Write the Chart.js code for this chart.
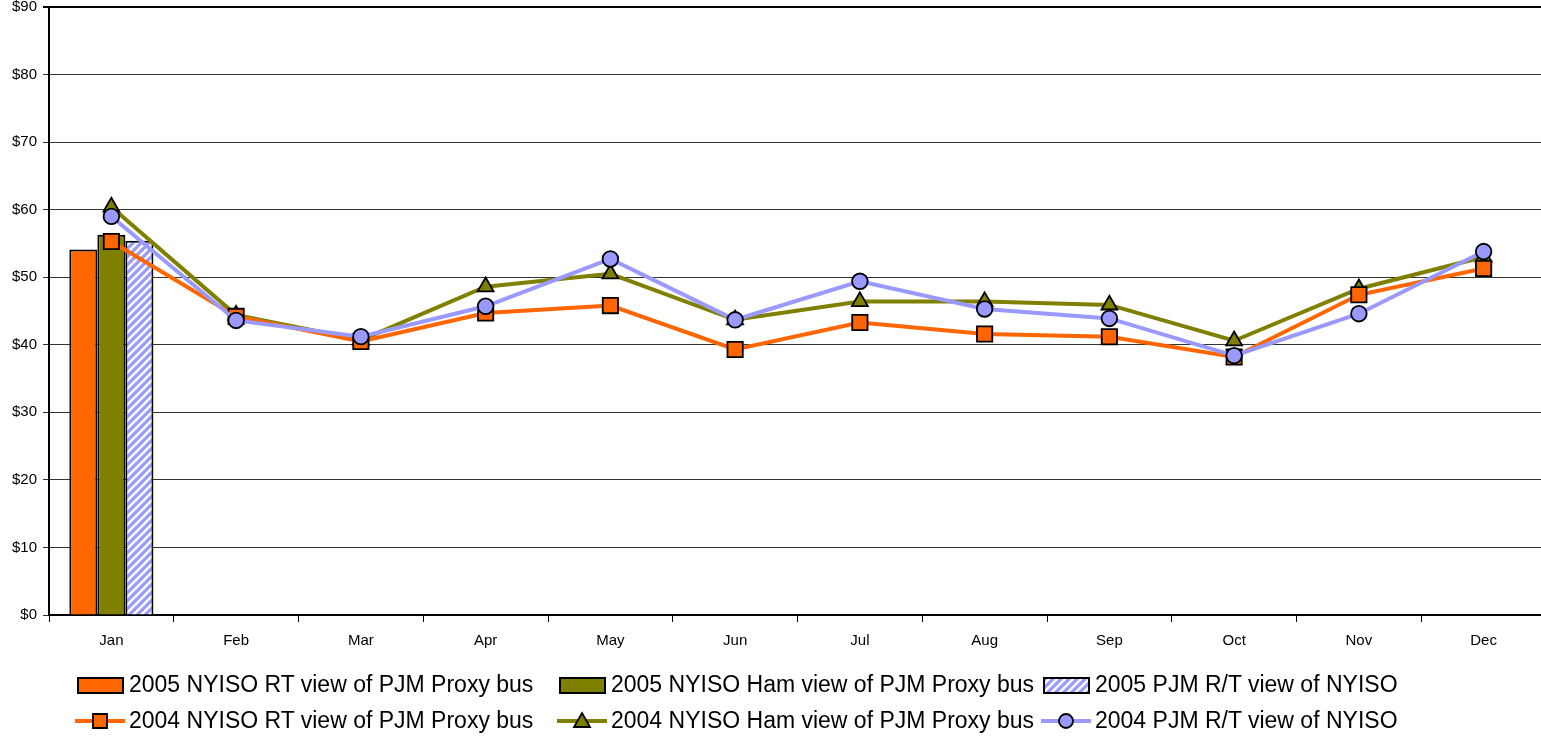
<!DOCTYPE html>
<html>
<head>
<meta charset="utf-8">
<script src="https://cdn.jsdelivr.net/npm/chart.js@4/dist/chart.umd.min.js"></script>
<style>
  html, body { margin: 0; padding: 0; background: #fff; overflow: hidden; }
  #wrap { position: relative; width: 1546px; height: 736px; }
  #legend { position: absolute; left: 75px; top: 671px; display: grid;
    grid-template-columns: 482px 484px auto; row-gap: 9px;
    font-family: "Liberation Sans", Arial, sans-serif; font-size: 23px; color: #000; }
  .item { display: flex; align-items: center; height: 27px; white-space: nowrap; }
  .item canvas { margin-right: 4px; }
</style>
</head>
<body>
<div id="wrap">
  <canvas id="priceChart" width="1546" height="736"></canvas>
  <div id="legend"></div>
</div>
<script>
// Month labels on the category axis
const months = ['Jan', 'Feb', 'Mar', 'Apr', 'May', 'Jun', 'Jul', 'Aug', 'Sep', 'Oct', 'Nov', 'Dec'];

// 2005 bars (only January so far)
const rt2005 = [54.1, null, null, null, null, null, null, null, null, null, null, null];
const ham2005 = [56.3, null, null, null, null, null, null, null, null, null, null, null];
const pjm2005 = [55.4, null, null, null, null, null, null, null, null, null, null, null];

// 2004 monthly lines
const rt2004 = [55.3, 44.2, 40.5, 44.7, 45.8, 39.3, 43.3, 41.6, 41.2, 38.2, 47.4, 51.3];
const ham2004 = [60.4, 44.4, 40.7, 48.6, 50.5, 43.7, 46.4, 46.4, 45.9, 40.6, 48.3, 53.0];
const pjm2004 = [59.0, 43.6, 41.2, 45.7, 52.7, 43.7, 49.4, 45.3, 43.9, 38.4, 44.6, 53.8];

// Y axis ticks
const yTicks = [0, 10, 20, 30, 40, 50, 60, 70, 80, 90];

const ORANGE = '#FF6600';
const OLIVE = '#808000';
const LAVENDER = '#9999FF';

// diagonal hatch for the PJM 2005 bar
function makeHatch() {
  const c = document.createElement('canvas');
  c.width = 8; c.height = 8;
  const g = c.getContext('2d');
  g.fillStyle = '#fff';
  g.fillRect(0, 0, 8, 8);
  g.strokeStyle = LAVENDER;
  g.lineWidth = 3.2;
  [[-8, 8, 8, -8], [0, 8, 8, 0], [0, 16, 16, 0]].forEach(p => {
    g.beginPath(); g.moveTo(p[0], p[1]); g.lineTo(p[2], p[3]); g.stroke();
  });
  return c;
}
const ctx = document.getElementById('priceChart').getContext('2d');
const hatch = ctx.createPattern(makeHatch(), 'repeat');

function lineSet(label, data, color, style, radius, order) {
  return {
    type: 'line', label: label, data: data, order: order,
    borderColor: color, borderWidth: 4, backgroundColor: color,
    pointStyle: style, pointRadius: radius, pointHoverRadius: radius,
    pointBackgroundColor: color, pointBorderColor: '#000', pointBorderWidth: 1.8,
    tension: 0, fill: false, clip: false
  };
}
function barSet(label, data, fill) {
  return {
    type: 'bar', label: label, data: data, order: 5,
    backgroundColor: fill, borderColor: '#000', borderWidth: 2,
    categoryPercentage: 0.674, barPercentage: 1
  };
}

const datasets = [
  barSet('2005 NYISO RT view of PJM Proxy bus', rt2005, ORANGE),
  barSet('2005 NYISO Ham view of PJM Proxy bus', ham2005, OLIVE),
  barSet('2005 PJM R/T view of NYISO', pjm2005, hatch),
  lineSet('2004 NYISO RT view of PJM Proxy bus', rt2004, ORANGE, 'rect', 10.8, 1),
  lineSet('2004 NYISO Ham view of PJM Proxy bus', ham2004, OLIVE, 'triangle', 9.2, 2),
  lineSet('2004 PJM R/T view of NYISO', pjm2004, LAVENDER, 'circle', 7.8, 0)
];

const tickFont = { family: '"Liberation Sans", Arial, sans-serif', size: 15 };

const chart = new Chart(ctx, {
  type: 'bar',
  data: { labels: months, datasets: datasets },
  options: {
    responsive: false,
    animation: false,
    layout: { autoPadding: false, padding: { top: 7, left: 0, right: 0, bottom: 0 } },
    plugins: { legend: { display: false }, tooltip: { enabled: false } },
    scales: {
      x: {
        offset: true,
        grid: { offset: true, drawOnChartArea: false, drawTicks: true, tickLength: 7, color: '#000', lineWidth: 1 },
        border: { color: '#000', width: 2 },
        ticks: { color: '#000', font: tickFont, padding: 10, maxRotation: 0 },
        afterFit: s => { s.height = 121; s.paddingLeft = 0; s.paddingRight = 0; }
      },
      y: {
        min: yTicks[0], max: yTicks[yTicks.length - 1],
        afterBuildTicks: s => { s.ticks = yTicks.map(v => ({ value: v })); },
        grid: {
          color: c => (c.tick && c.tick.value === 90) ? '#000' : '#333',
          lineWidth: c => (c.tick && c.tick.value === 90) ? 2 : 1,
          tickLength: 6
        },
        border: { color: '#000', width: 2 },
        ticks: { color: '#000', font: tickFont, padding: 6, callback: v => '$' + v },
        afterFit: s => { s.width = 49; s.paddingTop = 0; s.paddingBottom = 0; }
      }
    }
  }
});

// HTML legend: 2005 bars on the first row, 2004 lines on the second
function legendSymbol(ds) {
  const c = document.createElement('canvas');
  c.width = 50; c.height = 20;
  const g = c.getContext('2d');
  if (ds.type === 'bar') {
    g.fillStyle = ds.backgroundColor === hatch ? g.createPattern(makeHatch(), 'repeat') : ds.backgroundColor;
    g.fillRect(3, 3, 45, 15);
    g.strokeStyle = '#000'; g.lineWidth = 2;
    g.strokeRect(3, 3, 45, 15);
  } else {
    g.strokeStyle = ds.borderColor; g.lineWidth = 4;
    g.beginPath(); g.moveTo(0, 10); g.lineTo(50, 10); g.stroke();
    g.fillStyle = ds.pointBackgroundColor; g.strokeStyle = '#000'; g.lineWidth = 1.8;
    g.beginPath();
    if (ds.pointStyle === 'rect') g.rect(18, 3, 14, 14);
    else if (ds.pointStyle === 'triangle') { g.moveTo(25, 2); g.lineTo(33, 16); g.lineTo(17, 16); g.closePath(); }
    else g.arc(25, 10, 7, 0, Math.PI * 2);
    g.fill(); g.stroke();
  }
  return c;
}
const legendEl = document.getElementById('legend');
chart.data.datasets.forEach(ds => {
  const item = document.createElement('div');
  item.className = 'item';
  item.appendChild(legendSymbol(ds));
  const span = document.createElement('span');
  span.textContent = ds.label;
  item.appendChild(span);
  legendEl.appendChild(item);
});
</script>
</body>
</html>
